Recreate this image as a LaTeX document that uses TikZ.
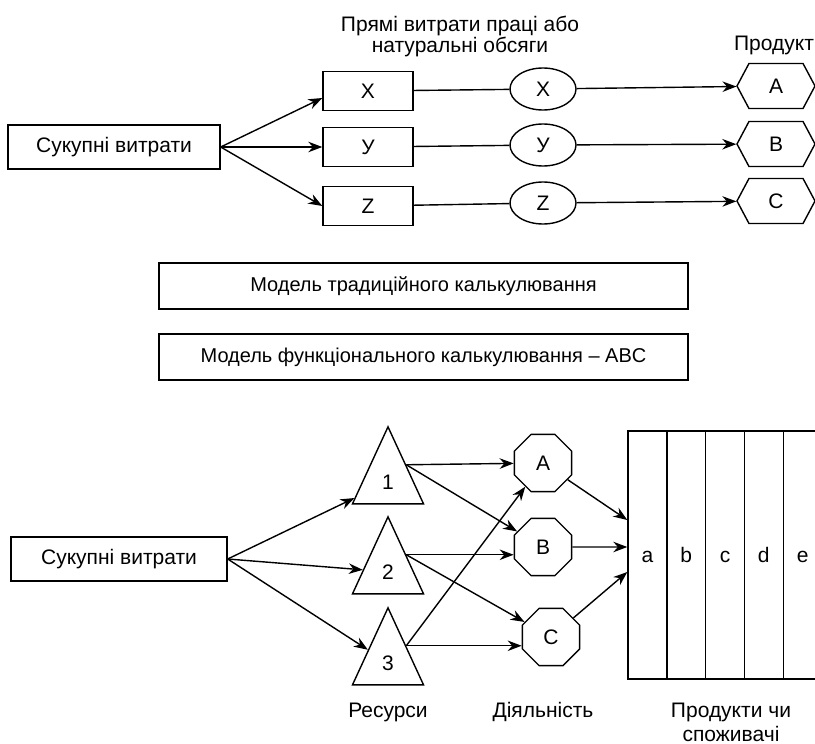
\documentclass[tikz,border=0pt]{standalone}
\usepackage{fontspec}
\setmainfont{Liberation Sans}
\usepackage{tikz}
\usetikzlibrary{shapes.geometric, shapes.symbols, arrows.meta, positioning, calc}

\begin{document}
\begin{tikzpicture}[x=1pt, y=-1pt, line width=1.4pt,
  font=\fontsize{21}{24}\selectfont,
  box/.style={draw, rectangle, minimum height=44pt, inner sep=0pt},
  base/.style={draw, ellipse, minimum width=66pt, minimum height=42pt, inner sep=0pt},
  prod/.style={draw, signal, signal to=west and east, signal pointer angle=124,
    minimum width=78pt, minimum height=45pt, inner sep=0pt},
  res/.style={draw, isosceles triangle, shape border rotate=90, isosceles triangle stretches,
    minimum width=71pt, minimum height=77pt, inner sep=0pt, anchor=apex},
  act/.style={draw, regular polygon, regular polygon sides=8, minimum size=62pt, inner sep=0pt},
  col/.style={draw, rectangle, minimum width=38.8pt, minimum height=248pt, inner sep=0pt,
    text height=15pt, text depth=0pt},
  arr/.style={-{Stealth[length=14pt, width=10.5pt]}}]
  \useasboundingbox (0,0) rectangle (815,744);

  % Traditional costing
  \node[align=center] (labLbl) at (460,36) {Прямі витрати праці або\\[-3pt]натуральні обсяги};
  \node (prodLbl) at (774,45) {Продукт};

  \node[box, minimum width=212pt] (totalT) at (114,147) {Сукупні витрати};

  \node[box, minimum width=90pt, minimum height=39pt] (costX) at (368,91) {X};
  \node[box, minimum width=90pt, minimum height=39pt] (costY) at (368,147) {У};
  \node[box, minimum width=90pt, minimum height=39pt] (costZ) at (368,206) {Z};

  \node[base] (baseX) at (543,89) {X};
  \node[base] (baseY) at (543,145) {У};
  \node[base] (baseZ) at (543,203) {Z};

  \node[prod] (prodA) at (776,86) {A};
  \node[prod] (prodB) at (776,144) {B};
  \node[prod] (prodC) at (776,201) {C};

  \draw[arr] (totalT.east) -- ([yshift=-7pt]costX.west);
  \draw[arr] (totalT.east) -- (costY.west);
  \draw[arr] (totalT.east) -- (costZ.west);
  \draw (costX) -- (baseX);
  \draw (costY) -- (baseY);
  \draw (costZ) -- (baseZ);
  \draw[arr] (baseX) -- (prodA);
  \draw[arr] (baseY) -- (prodB);
  \draw[arr] (baseZ) -- (prodC);

  % Models
  \node[box, minimum width=529pt, minimum height=46pt, font=\fontsize{20}{22}\selectfont] (modelT) at (423.5,286) {Модель традиційного калькулювання};
  \node[box, minimum width=529pt, minimum height=46pt, font=\fontsize{20}{22}\selectfont] (modelF) at (423.5,357) {Модель функціонального калькулювання – ABC};

  % Activity-based costing
  \node[box, minimum width=216pt] (totalF) at (119,559) {Сукупні витрати};

  \node[res] (res1) at (388,425) {1};
  \node[res] (res2) at (388,515) {2};
  \node[res] (res3) at (388,606) {3};

  \node[act] (actA) at (543,463) {A};
  \node[act] (actB) at (543,547) {B};
  \node[act] (actC) at (551,637) {C};

  \foreach \l [count=\i] in {a,b,c,d,e}
    \node[col] (col\l) at ({608.6+38.8*\i},555) {\l};

  \draw[arr] (totalF.east) -- (res1);
  \draw[arr] (totalF.east) -- (res2);
  \draw[arr] (totalF.east) -- (res3);

  \draw[arr] (res1.right side) -- (actA);
  \draw[arr] (res1.right side) -- (actB);
  \draw[arr] (res2.right side) -- (res2.right side -| actB.west);
  \draw[arr] (res2.right side) -- (actC);
  \draw[arr] (res3.right side) -- (actA);
  \draw[arr] (res3.right side) -- (res3.right side -| actC.west);

  \draw[arr] (actA) -- ([yshift=35pt]cola.west);
  \draw[arr] (actB) -- ([yshift=8pt]cola.west);
  \draw[arr] (actC) -- ([yshift=-17pt]cola.west);

  \node (resLbl) at (388,712) {Ресурси};
  \node (actLbl) at (543,712) {Діяльність};
  \node[align=center] (custLbl) at (731,722) {Продукти чи\\споживачі};
\end{tikzpicture}
\end{document}
